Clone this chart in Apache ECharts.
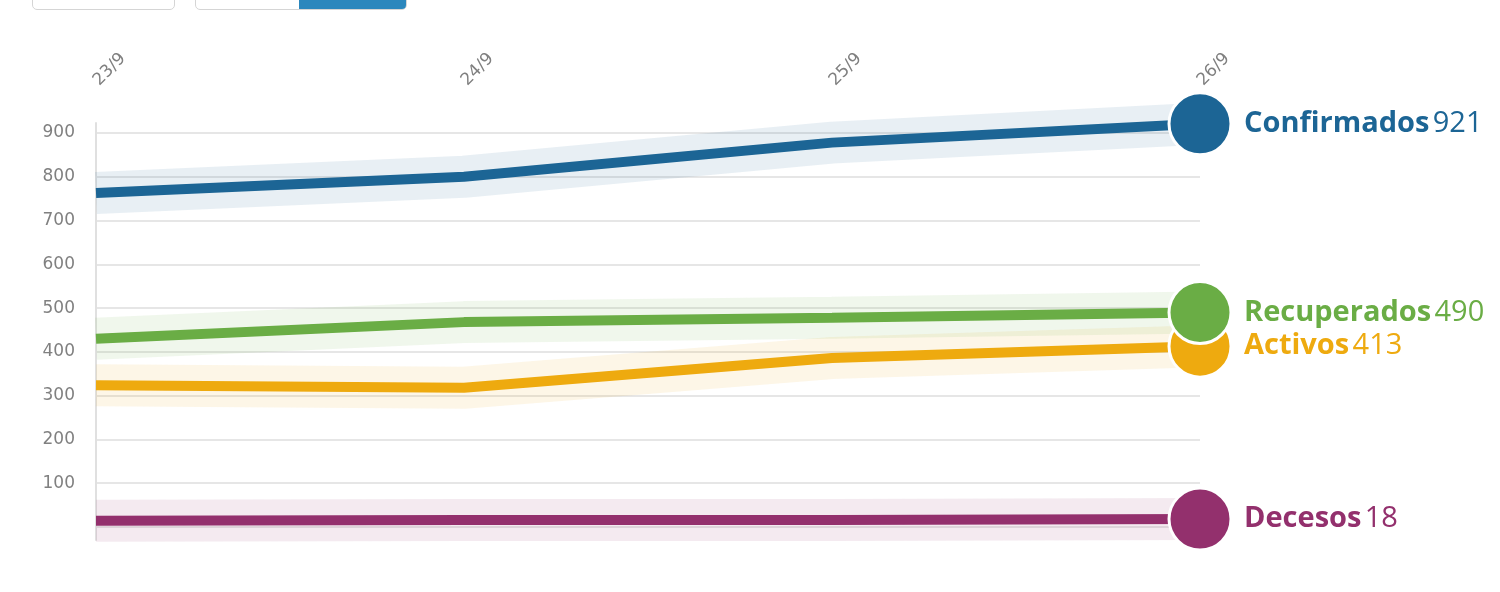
<!DOCTYPE html>
<html>
<head>
<meta charset="utf-8">
<script src="https://cdn.jsdelivr.net/npm/echarts@6/dist/echarts.min.js"></script>
<style>
  html, body { margin: 0; padding: 0; background: #fff; }
  #main { width: 1500px; height: 592px; position: relative; }
  .btn { position: absolute; top: -10px; height: 18px; border: 1px solid #d5d5d5; border-radius: 5px; background: #fff; overflow: hidden; }
  .btn .on { position: absolute; top: 0; bottom: 0; right: 0; width: 107px; background: #2b87bd; }
</style>
</head>
<body>
<div style="position:relative;width:1500px;height:592px;">
  <div id="main"></div>
  <div class="btn" style="left:32px;width:141px;"></div>
  <div class="btn" style="left:195px;width:210px;"><div class="on"></div></div>
</div>
<script>
// fechas
var dias = ["23/9", "24/9", "25/9", "26/9"];
// series
var confirmados = [763, 800, 878, 921];
var recuperados = [430, 468, 478, 490];
var activos = [324, 318, 386, 413];
var decesos = [14, 16, 16, 18];
var yTicks = [0, 900, 100];

var nombres = ["Decesos", "Activos", "Recuperados", "Confirmados"];
var datos = [decesos, activos, recuperados, confirmados];
var colores = ["#93306d", "#eeaa0f", "#6aad45", "#1c6595"];
var bandas = ["rgba(147,48,109,0.10)", "rgba(238,170,15,0.10)", "rgba(106,173,69,0.10)", "rgba(29,102,150,0.10)"];

var myChart = echarts.init(document.getElementById('main'));

var series = [];
// bandas suaves detras
for (var i = 0; i < 4; i++) {
    series.push({
        type: 'line',
        data: datos[i],
        silent: true,
        symbol: 'none',
        clip: false,
        z: 1,
        lineStyle: { width: 42, color: bandas[i], cap: 'butt' }
    });
}
// lineas principales
for (var i = 0; i < 4; i++) {
    (function (k) {
        series.push({
            type: 'line',
            name: nombres[k],
            data: datos[k],
            z: 3 + k,
            clip: false,
            symbol: 'circle',
            showSymbol: true,
            symbolSize: function (v, p) { return p.dataIndex === datos[k].length - 1 ? 62 : 0; },
            itemStyle: { color: colores[k], borderColor: '#fff', borderWidth: 3 },
            lineStyle: { width: 10, color: colores[k] },
            endLabel: {
                show: true,
                distance: 44,
                formatter: function (p) { return '{b|' + nombres[k] + '} {v|' + p.value + '}'; },
                rich: {
                    b: { fontFamily: 'Open Sans', fontWeight: 'bold', fontSize: 29, color: colores[k] },
                    v: { fontFamily: 'Open Sans', fontSize: 29, color: colores[k] }
                }
            }
        });
    })(i);
}

option = {
    animation: false,
    grid: [
        { left: 96, right: 300, top: 133, bottom: 65 },
        { left: 96, right: 300, top: 123, bottom: 52 }
    ],
    xAxis: [
        {
            type: 'category',
            data: dias,
            position: 'top',
            boundaryGap: false,
            axisLine: { show: false },
            axisTick: { show: false },
            axisLabel: { rotate: 45, margin: 50, color: '#808080', fontSize: 17, fontFamily: 'DejaVu Sans' }
        },
        { gridIndex: 1, type: 'value', show: false }
    ],
    yAxis: [
        {
            type: 'value',
            min: yTicks[0],
            max: yTicks[1],
            interval: yTicks[2],
            axisLine: { show: false },
            axisTick: { show: false },
            splitLine: { lineStyle: { color: '#e6e6e6', width: 2 } },
            axisLabel: {
                margin: 21,
                color: '#808080',
                fontSize: 17,
                fontFamily: 'DejaVu Sans',
                formatter: function (v) { return v === 0 ? '' : v; }
            }
        },
        {
            gridIndex: 1,
            type: 'value',
            axisLine: { show: true, lineStyle: { color: '#e0e0e0', width: 2 } },
            axisTick: { show: false },
            axisLabel: { show: false },
            splitLine: { show: false }
        }
    ],
    series: series
};
myChart.setOption(option);
</script>
</body>
</html>
